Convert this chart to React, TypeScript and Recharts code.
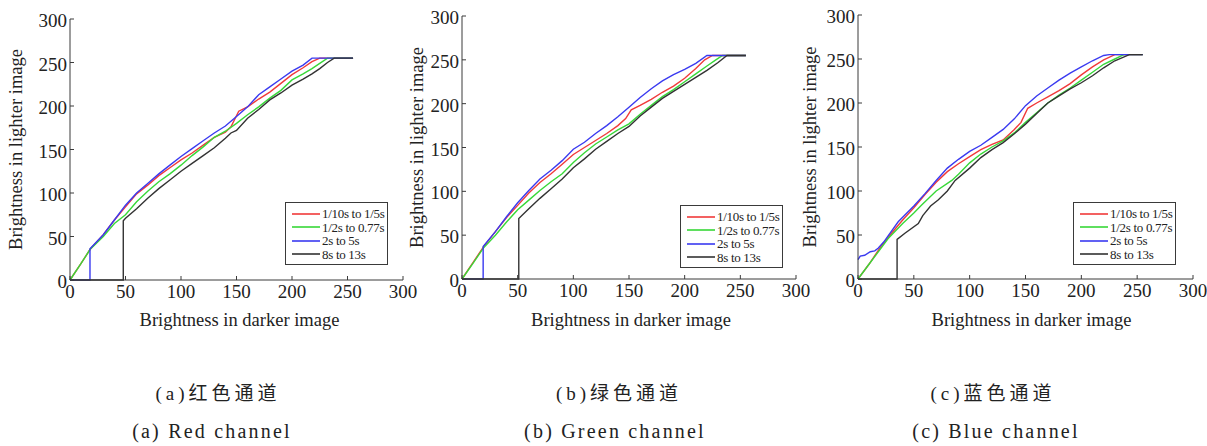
import React from 'react';
import { LineChart, Line, XAxis, YAxis, Legend } from 'recharts';

type Pt = [number, number];

const X_TICKS = [0, 50, 100, 150, 200, 250, 300];
const Y_TICKS = [0, 50, 100, 150, 200, 250, 300];
const SERIES_NAMES = ['1/10s to 1/5s', '1/2s to 0.77s', '2s to 5s', '8s to 13s'];
const SERIES_COLORS = ['#f03a3a', '#38d838', '#3a3af0', '#333333'];

// (a) red channel
const A_RED: Pt[] = [[0, 0], [10, 19], [18, 35], [30, 52], [40, 69], [50, 84], [60, 99], [70, 109], [80, 120], [90, 129], [100, 138], [110, 146], [120, 155], [130, 164], [140, 170], [145, 176], [152, 194], [160, 199], [170, 208], [180, 216], [190, 226], [200, 236], [210, 244], [218, 251], [225, 255], [255, 255]];
const A_GREEN: Pt[] = [[0, 0], [10, 19], [18, 35], [30, 50], [40, 65], [50, 75], [60, 90], [70, 102], [80, 113], [90, 122], [100, 132], [110, 143], [120, 153], [130, 164], [140, 171], [150, 180], [160, 190], [170, 199], [180, 209], [190, 218], [200, 230], [210, 237], [218, 243], [225, 249], [232, 255], [255, 255]];
const A_BLUE: Pt[] = [[0, 0], [18, 0], [18, 36], [30, 52], [40, 69], [50, 86], [60, 100], [70, 111], [80, 122], [90, 132], [100, 142], [110, 151], [120, 160], [130, 169], [140, 177], [150, 188], [160, 199], [170, 213], [180, 222], [190, 231], [200, 240], [210, 247], [218, 255], [255, 255]];
const A_BLACK: Pt[] = [[0, 0], [48, 0], [48, 68], [50, 71], [60, 82], [70, 94], [80, 105], [90, 115], [100, 125], [110, 134], [120, 143], [130, 152], [140, 163], [145, 169], [150, 172], [160, 186], [170, 196], [180, 207], [190, 215], [200, 224], [210, 231], [218, 237], [225, 243], [232, 250], [238, 255], [255, 255]];

// (b) green channel
const B_RED: Pt[] = [[0, 0], [10, 19], [19, 36], [30, 54], [40, 70], [50, 84], [60, 98], [70, 110], [80, 120], [90, 131], [100, 142], [110, 150], [120, 158], [130, 166], [140, 175], [147, 183], [152, 193], [160, 198], [170, 205], [180, 213], [190, 220], [200, 229], [210, 240], [218, 250], [225, 255], [255, 255]];
const B_GREEN: Pt[] = [[0, 0], [10, 18], [19, 35], [30, 50], [40, 65], [50, 79], [60, 90], [70, 101], [80, 111], [90, 120], [100, 133], [110, 144], [120, 154], [130, 162], [140, 170], [150, 177], [160, 188], [170, 198], [180, 208], [190, 216], [200, 225], [210, 234], [220, 243], [228, 250], [234, 255], [255, 255]];
const B_BLUE: Pt[] = [[0, 0], [19, 0], [19, 37], [30, 54], [40, 71], [50, 87], [60, 101], [70, 114], [80, 124], [90, 135], [100, 148], [110, 156], [120, 166], [130, 175], [140, 185], [150, 196], [160, 207], [170, 217], [180, 226], [190, 233], [200, 239], [210, 246], [220, 255], [255, 255]];
const B_BLACK: Pt[] = [[0, 0], [51, 0], [51, 69], [60, 80], [70, 92], [80, 103], [90, 114], [100, 127], [110, 137], [120, 148], [130, 157], [140, 166], [150, 174], [160, 186], [170, 196], [180, 206], [190, 214], [200, 222], [210, 230], [220, 238], [230, 247], [238, 255], [255, 255]];

// (c) blue channel
const C_RED: Pt[] = [[0, 0], [10, 17], [20, 36], [30, 52], [40, 67], [50, 81], [60, 96], [70, 110], [80, 122], [90, 131], [100, 139], [110, 147], [120, 153], [130, 158], [140, 170], [146, 178], [152, 194], [160, 200], [170, 207], [180, 214], [190, 222], [200, 232], [210, 241], [220, 249], [230, 255], [255, 255]];
const C_GREEN: Pt[] = [[0, 0], [10, 17], [20, 34], [27, 46], [40, 63], [50, 75], [57, 84], [70, 100], [84, 112], [90, 119], [100, 132], [110, 142], [120, 150], [130, 157], [140, 166], [150, 178], [160, 189], [170, 200], [180, 209], [190, 217], [200, 226], [210, 235], [220, 244], [230, 250], [238, 255], [255, 255]];
const C_BLUE: Pt[] = [[0, 22], [2, 26], [6, 27], [11, 31], [15, 32], [18, 35], [23, 42], [36, 65], [50, 83], [60, 97], [70, 112], [80, 126], [90, 136], [100, 145], [110, 152], [120, 161], [130, 170], [140, 182], [150, 197], [160, 208], [170, 217], [180, 226], [190, 234], [200, 241], [210, 248], [220, 254], [225, 255], [255, 255]];
const C_BLACK: Pt[] = [[0, 0], [35, 0], [35, 45], [42, 52], [54, 63], [58, 72], [65, 83], [72, 90], [80, 100], [87, 112], [100, 126], [110, 138], [120, 147], [130, 155], [140, 165], [150, 176], [160, 188], [170, 200], [180, 208], [190, 216], [200, 223], [210, 231], [220, 240], [230, 248], [243, 255], [255, 255]];

const CAPTIONS_ZH = ['(a)红色通道', '(b)绿色通道', '(c)蓝色通道'];
const CAPTIONS_EN = ['(a) Red channel', '(b) Green channel', '(c) Blue channel'];

const SERIF = '"Liberation Serif", "Times New Roman", serif';
const FRAME = '#3a3a3a';
const TEXT = '#222';

const bottomTick = (p: any) => (
  <g>
    <line x1={p.x} x2={p.x} y1={p.y} y2={p.y - 4} stroke={FRAME} />
    <text x={p.x} y={p.y + 18} textAnchor="middle" fontSize={19} fontFamily={SERIF} fill={TEXT}>
      {p.payload.value}
    </text>
  </g>
);
const topTick = (p: any) => <line x1={p.x} x2={p.x} y1={p.y} y2={p.y + 4} stroke={FRAME} />;
const leftTick = (p: any) => (
  <g>
    <line x1={p.x} x2={p.x + 4} y1={p.y} y2={p.y} stroke={FRAME} />
    <text x={p.x - 3} y={p.y + 8} textAnchor="end" fontSize={19} fontFamily={SERIF} fill={TEXT}>
      {p.payload.value}
    </text>
  </g>
);
const rightTick = (p: any) => <line x1={p.x} x2={p.x - 4} y1={p.y} y2={p.y} stroke={FRAME} />;

const renderLegend = () => (
  <div
    style={{
      width: 103,
      height: 63,
      boxSizing: 'border-box',
      border: `1px solid ${FRAME}`,
      background: '#fff',
      padding: '4px 0 0 6px',
      fontFamily: SERIF,
      fontSize: 13,
      lineHeight: '13.5px',
      color: TEXT,
      letterSpacing: -0.3,
      textAlign: 'left',
    }}
  >
    {SERIES_NAMES.map((name, i) => (
      <div key={name} style={{ display: 'flex', alignItems: 'center', whiteSpace: 'nowrap' }}>
        <svg width={28} height={4} style={{ marginRight: 2, flex: 'none' }}>
          <line x1={0} x2={28} y1={2} y2={2} stroke={SERIES_COLORS[i]} strokeWidth={1.6} />
        </svg>
        <span>{name}</span>
      </div>
    ))}
  </div>
);

interface PanelProps {
  series: Pt[][];
  left: number;
  width: number;
  margin: { top: number; right: number; left: number; bottom: number };
  yTitleX: number;
  xTitleDx: number;
  legendPos: { left: number; top: number };
}

function Panel({ series, left, width, margin, yTitleX, xTitleDx, legendPos }: PanelProps) {
  return (
    <div style={{ position: 'absolute', left, top: 0 }}>
      <LineChart width={width} height={340} margin={margin}>
        <XAxis
          xAxisId="b"
          type="number"
          dataKey="x"
          domain={[0, 300]}
          ticks={X_TICKS}
          height={30}
          tickSize={0}
          tickMargin={0}
          tickLine={false}
          tick={bottomTick}
          axisLine={{ stroke: FRAME }}
          label={(p: any) => {
            const vb = p.viewBox;
            return (
              <text x={vb.x + vb.width / 2 + xTitleDx} y={326} textAnchor="middle" fontSize={18.5} fontFamily={SERIF} fill={TEXT}>
                Brightness in darker image
              </text>
            );
          }}
        />
        <XAxis
          xAxisId="t"
          orientation="top"
          type="number"
          dataKey="x"
          domain={[0, 300]}
          ticks={X_TICKS}
          height={0}
          tickSize={0}
          tickMargin={0}
          tickLine={false}
          tick={topTick}
          axisLine={{ stroke: FRAME }}
        />
        <YAxis
          yAxisId="l"
          type="number"
          domain={[0, 300]}
          ticks={Y_TICKS}
          width={50}
          tickSize={0}
          tickMargin={0}
          tickLine={false}
          tick={leftTick}
          axisLine={{ stroke: FRAME }}
          label={(p: any) => {
            const vb = p.viewBox;
            const cy = vb.y + vb.height / 2;
            return (
              <text
                x={yTitleX}
                y={cy}
                transform={`rotate(-90 ${yTitleX} ${cy})`}
                textAnchor="middle"
                dominantBaseline="central"
                fontSize={18.5}
                fontFamily={SERIF}
                fill={TEXT}
              >
                Brightness in lighter image
              </text>
            );
          }}
        />
        <YAxis
          yAxisId="r"
          orientation="right"
          type="number"
          domain={[0, 300]}
          ticks={Y_TICKS}
          width={0}
          tickSize={0}
          tickMargin={0}
          tickLine={false}
          tick={rightTick}
          axisLine={{ stroke: FRAME }}
        />
        {series.map((pts, i) => (
          <Line
            key={SERIES_NAMES[i]}
            xAxisId="b"
            yAxisId="l"
            type="linear"
            data={pts.map(([x, y]) => ({ x, y }))}
            dataKey="y"
            name={SERIES_NAMES[i]}
            stroke={SERIES_COLORS[i]}
            strokeWidth={1.4}
            dot={false}
            activeDot={false}
            isAnimationActive={false}
          />
        ))}
        <Legend
          layout="horizontal"
          verticalAlign="middle"
          align="center"
          content={renderLegend}
          wrapperStyle={{ left: legendPos.left, top: legendPos.top, width: 103 }}
        />
      </LineChart>
    </div>
  );
}

const captionStyle = (cx: number, cy: number, size: number, ls: number): React.CSSProperties => ({
  position: 'absolute',
  left: cx - 200,
  top: cy - 10,
  width: 400,
  textAlign: 'center',
  fontFamily: '"Liberation Serif", "Noto Sans CJK SC", serif',
  fontSize: size,
  lineHeight: '20px',
  letterSpacing: ls,
  color: TEXT,
  whiteSpace: 'nowrap',
});

const ZH_X = [218, 619, 993];
const EN_X = [212, 615, 996];

export default function App() {
  return (
    <div style={{ position: 'absolute', left: 0, top: 0, width: 1207, height: 446, background: '#fff', overflow: 'hidden' }}>
      <Panel
        series={[A_RED, A_GREEN, A_BLUE, A_BLACK]}
        left={0}
        width={420}
        margin={{ top: 19, right: 17, left: 20, bottom: 30 }}
        yTitleX={16}
        xTitleDx={3}
        legendPos={{ left: 285, top: 202 }}
      />
      <Panel
        series={[B_RED, B_GREEN, B_BLUE, B_BLACK]}
        left={400}
        width={415}
        margin={{ top: 16, right: 19, left: 12, bottom: 31 }}
        yTitleX={17}
        xTitleDx={2}
        legendPos={{ left: 280, top: 205 }}
      />
      <Panel
        series={[C_RED, C_GREEN, C_BLUE, C_BLACK]}
        left={800}
        width={407}
        margin={{ top: 15, right: 14, left: 8, bottom: 31 }}
        yTitleX={10}
        xTitleDx={6}
        legendPos={{ left: 273, top: 202 }}
      />
      {CAPTIONS_ZH.map((t, i) => (
        <div key={t} style={captionStyle(ZH_X[i], 394, 19, 4)}>{t}</div>
      ))}
      {CAPTIONS_EN.map((t, i) => (
        <div key={t} style={captionStyle(EN_X[i], 431, 20, 2.2)}>{t}</div>
      ))}
    </div>
  );
}
